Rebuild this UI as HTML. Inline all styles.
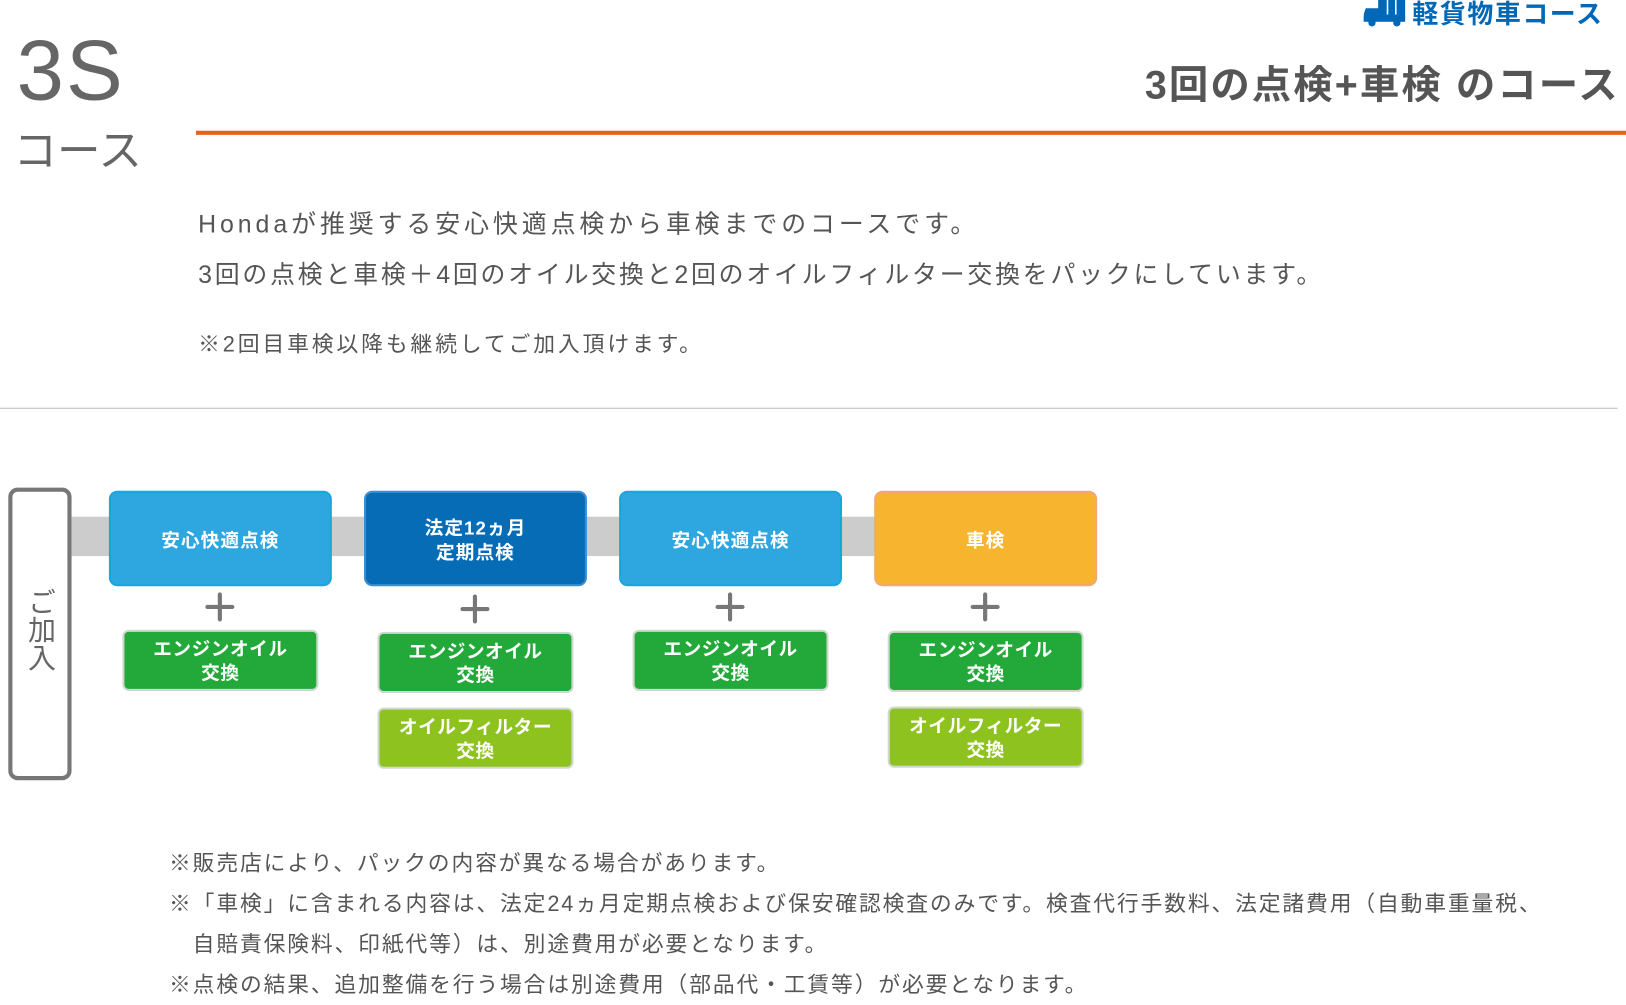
<!DOCTYPE html>
<html><head><meta charset="utf-8"><style>
html,body{margin:0;padding:0;background:#fff;overflow:hidden}
body{width:1626px;height:997px}
#s{position:absolute;left:0;top:0;width:1568px;height:961px;transform:scale(1.0370,1.0375);transform-origin:0 0;font-family:"Liberation Sans","Noto Sans CJK JP",sans-serif;color:#555}
.a{position:absolute;white-space:nowrap}
.box{position:absolute;box-sizing:border-box;border-radius:8px;color:#fff;font-weight:bold;font-size:18px;display:flex;align-items:center;justify-content:center;text-align:center;line-height:24px;letter-spacing:1px;padding-top:4px}
.g{position:absolute;box-sizing:border-box;border-radius:6px;border:2px solid #cfd8cf;color:#fff;font-weight:bold;font-size:18px;display:flex;align-items:center;justify-content:center;text-align:center;line-height:23px;width:189px;height:59px;letter-spacing:0.5px;padding-top:2px}
.plus{position:absolute;width:28px;height:28px}
.plus:before{content:"";position:absolute;left:0;top:12px;width:28px;height:4px;background:#777;border-radius:2px}
.plus:after{content:"";position:absolute;left:12px;top:0;width:4px;height:28px;background:#777;border-radius:2px}
</style></head><body><div id="s">
<div class="a" style="left:16px;top:22px;font-size:82px;color:#666;letter-spacing:2px">3S</div>
<div class="a" style="left:13px;top:112px;font-size:42px;color:#666">コース</div>
<svg class="a" style="left:1315px;top:0" width="42" height="26" viewBox="0 0 42 26"><rect x="14" y="0" width="26" height="18" fill="#0068b7"/><path d="M2 8 h13 v12 h-15 v-6 z" fill="#0068b7"/><rect x="0" y="16" width="40" height="5" fill="#0068b7"/><circle cx="8" cy="22" r="3.5" fill="#0068b7"/><circle cx="32" cy="22" r="3.5" fill="#0068b7"/><line x1="23" y1="0" x2="23" y2="14" stroke="#fff" stroke-width="1.5"/><line x1="31" y1="0" x2="31" y2="14" stroke="#fff" stroke-width="1.5"/></svg>
<div class="a" style="left:1362px;top:-6px;font-size:25px;color:#0068b7;font-weight:bold;letter-spacing:1.5px">軽貨物車コース</div>
<div class="a" style="left:1104px;top:51px;font-size:38px;font-weight:bold;color:#555;letter-spacing:2px">3回の点検+車検 のコース</div>
<div class="a" style="left:189px;top:126px;width:1379px;height:4px;background:#e2651c"></div>
<div class="a" style="left:191px;top:196px;font-size:24px;letter-spacing:3.8px">Hondaが推奨する安心快適点検から車検までのコースです。</div>
<div class="a" style="left:191px;top:245px;font-size:24px;letter-spacing:2.7px">3回の点検と車検＋4回のオイル交換と2回のオイルフィルター交換をパックにしています。</div>
<div class="a" style="left:191px;top:316px;font-size:21px;letter-spacing:2.8px">※2回目車検以降も継続してご加入頂けます。</div>
<div class="a" style="left:0;top:393px;width:1560px;height:1px;background:#bbb"></div>

<div class="a" style="left:8px;top:470px;width:61px;height:282px;box-sizing:border-box;border:4px solid #777;border-radius:9px"></div>
<div class="a" style="left:24px;top:566px;font-size:27px;color:#666;writing-mode:vertical-rl;line-height:28px">ご加入</div>
<div class="a" style="left:69px;top:498px;width:780px;height:38px;background:#ccc"></div>

<div class="box" style="left:105px;top:473px;width:215px;height:92px;background:#2ea6e0;border:2px solid #16a8dd">安心快適点検</div>
<div class="box" style="left:351px;top:473px;width:215px;height:92px;background:#066cb5;border:2px solid #3d8dd0">法定12ヵ月<br>定期点検</div>
<div class="box" style="left:597px;top:473px;width:215px;height:92px;background:#2ea6e0;border:2px solid #16a8dd">安心快適点検</div>
<div class="box" style="left:843px;top:473px;width:215px;height:92px;background:#f7b52f;border:2px solid #efa77a">車検</div>

<div class="plus" style="left:198px;top:571px"></div>
<div class="plus" style="left:444px;top:573px"></div>
<div class="plus" style="left:690px;top:571px"></div>
<div class="plus" style="left:936px;top:571px"></div>

<div class="g" style="left:118px;top:607px;background:#23a93a">エンジンオイル<br>交換</div>
<div class="g" style="left:364px;top:609px;background:#23a93a">エンジンオイル<br>交換</div>
<div class="g" style="left:364px;top:682px;background:#8dc21f">オイルフィルター<br>交換</div>
<div class="g" style="left:610px;top:607px;background:#23a93a">エンジンオイル<br>交換</div>
<div class="g" style="left:856px;top:608px;background:#23a93a">エンジンオイル<br>交換</div>
<div class="g" style="left:856px;top:681px;background:#8dc21f">オイルフィルター<br>交換</div>

<div class="a" style="left:163px;top:813px;font-size:21px;line-height:39px;letter-spacing:1.8px">※販売店により、パックの内容が異なる場合があります。<br>※「車検」に含まれる内容は、法定24ヵ月定期点検および保安確認検査のみです。検査代行手数料、法定諸費用（自動車重量税、<br>　自賠責保険料、印紙代等）は、別途費用が必要となります。<br>※点検の結果、追加整備を行う場合は別途費用（部品代・工賃等）が必要となります。</div>
</div></body></html>
